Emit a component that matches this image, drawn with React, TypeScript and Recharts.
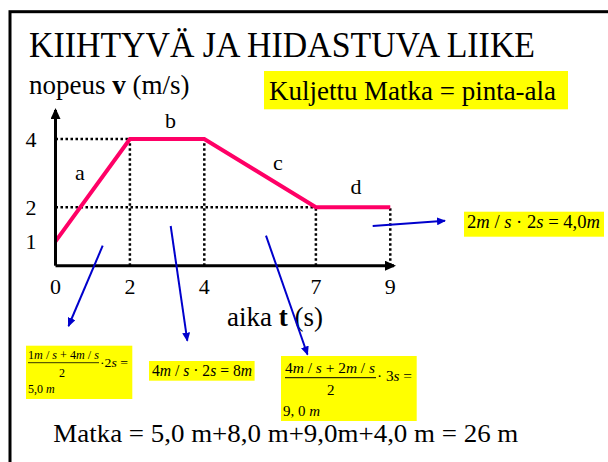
import { LineChart, Line, XAxis, YAxis, ReferenceLine } from 'recharts';

// aika t (s) ja nopeus v (m/s)
const timeS = [0, 2, 4, 7, 9];
const speedMs = [1, 4, 4, 2, 2];
const xTicks = [0, 2, 4, 7, 9];
const yTicks = [1, 2, 4];
const segmentNames = ['a', 'b', 'c', 'd'];

const data = timeS.map((t, i) => ({ t, v: speedMs[i] }));

const Y_MIN = 0.288;
const PINK = '#FF0066';
const BLUE = '#0000CC';
const SERIF = "'Liberation Serif', 'Times New Roman', serif";

// dotted guides: verticals from every corner down to the axis,
// horizontals from the y axis to the first point reaching each level
const vGuides = data.filter((d) => d.t > 0);
const hGuides = yTicks
  .filter((y) => y > 1)
  .map((y) => data.find((d) => d.v === y)!)
  .filter(Boolean);

const dotted = { stroke: '#000', strokeWidth: 2.5, strokeDasharray: '2.5 2.5' };

const Chart = () => (
  <LineChart
    width={608}
    height={462}
    data={data}
    margin={{ top: 110, right: 214, bottom: 166.3, left: 31.5 }}
  >
    <XAxis
      type="number"
      dataKey="t"
      domain={[0, 9.1]}
      ticks={xTicks}
      interval={0}
      height={30}
      tickLine={false}
      tickSize={0}
      tickMargin={13}
      axisLine={{ stroke: '#000', strokeWidth: 3, markerEnd: 'url(#axArrow)' }}
      tick={{ fill: '#000', fontSize: 22, fontFamily: SERIF }}
    />
    <YAxis
      type="number"
      domain={[Y_MIN, 4.85]}
      ticks={yTicks}
      interval={0}
      width={24}
      tickLine={false}
      tickSize={0}
      tickMargin={19}
      axisLine={{ stroke: '#000', strokeWidth: 3, markerStart: 'url(#axArrow)' }}
      tick={{ fill: '#000', fontSize: 22, fontFamily: SERIF }}
    />
    {vGuides.map((d) => (
      <ReferenceLine
        key={`v-${d.t}`}
        segment={[{ x: d.t, y: Y_MIN }, { x: d.t, y: d.v }]}
        {...dotted}
      />
    ))}
    {hGuides.map((d) => (
      <ReferenceLine
        key={`h-${d.v}`}
        segment={[{ x: 0, y: d.v }, { x: d.t, y: d.v }]}
        {...dotted}
      />
    ))}
    <Line
      type="linear"
      dataKey="v"
      stroke={PINK}
      strokeWidth={4}
      dot={false}
      isAnimationActive={false}
    />
  </LineChart>
);

const Overlay = () => (
  <svg
    width={608}
    height={462}
    style={{ position: 'absolute', left: 0, top: 0, pointerEvents: 'none', fontFamily: SERIF }}
  >
    <defs>
      <marker id="axArrow" viewBox="0 0 11 10" refX="9" refY="5" markerWidth="11" markerHeight="10"
        markerUnits="userSpaceOnUse" orient="auto-start-reverse">
        <path d="M0,0 L11,5 L0,10 z" fill="#000" />
      </marker>
      <marker id="blueArrow" viewBox="0 0 9 8" refX="8" refY="4" markerWidth="9" markerHeight="8"
        markerUnits="userSpaceOnUse" orient="auto">
        <path d="M0,0 L9,4 L0,8 z" fill={BLUE} />
      </marker>
    </defs>

    {/* slide frame */}
    <rect x={10} y={11.7} width={700} height={600} fill="none" stroke="#000" strokeWidth={3} />

    <text x={29} y={56.7} fontSize={35} textLength={506} lengthAdjust="spacingAndGlyphs">
      KIIHTYVÄ JA HIDASTUVA LIIKE
    </text>
    <text x={29} y={94.3} fontSize={27}>
      nopeus <tspan fontWeight="bold">v</tspan> (m/s)
    </text>

    <rect x={264} y={71} width={304} height={38.3} fill="#FFFF00" />
    <text x={269} y={100} fontSize={27} textLength={287} lengthAdjust="spacingAndGlyphs">
      Kuljettu Matka = pinta-ala
    </text>

    <text x={227} y={326} fontSize={27}>
      aika <tspan fontWeight="bold">t</tspan> (s)
    </text>

    {/* segment names */}
    <g fontSize={22} textAnchor="middle">
      <text x={80} y={180}>{segmentNames[0]}</text>
      <text x={170.5} y={128}>{segmentNames[1]}</text>
      <text x={278} y={170}>{segmentNames[2]}</text>
      <text x={356} y={194}>{segmentNames[3]}</text>
    </g>

    {/* arrows to the area calculations */}
    <g stroke={BLUE} strokeWidth={2} markerEnd="url(#blueArrow)">
      <line x1={102.7} y1={245.7} x2={68.5} y2={326} />
      <line x1={170.7} y1={226} x2={187.3} y2={340.7} />
      <line x1={266} y1={235.7} x2={307.5} y2={354.5} />
      <line x1={372.7} y1={226} x2={445} y2={220.7} />
    </g>

    {/* a */}
    <rect x={26} y={345.7} width={106.3} height={53.3} fill="#FFFF00" />
    <g fontSize={12}>
      <text x={28} y={359.3} textLength={71} lengthAdjust="spacingAndGlyphs">
        1<tspan fontStyle="italic">m</tspan> / <tspan fontStyle="italic">s</tspan> + 4<tspan fontStyle="italic">m</tspan> / <tspan fontStyle="italic">s</tspan>
      </text>
      <line x1={28} y1={362.7} x2={99} y2={362.7} stroke="#000" strokeWidth={0.8} />
      <text x={62} y={376.7} textAnchor="middle">2</text>
      <text x={100} y={366.7} textLength={28} lengthAdjust="spacingAndGlyphs">
        ·2<tspan fontStyle="italic">s</tspan> =
      </text>
      <text x={28} y={393.3}>
        5,0 <tspan fontStyle="italic">m</tspan>
      </text>
    </g>

    {/* b */}
    <rect x={149} y={361} width={105.6} height={19.7} fill="#FFFF00" />
    <text x={152} y={376} fontSize={16} textLength={100} lengthAdjust="spacingAndGlyphs">
      4<tspan fontStyle="italic">m</tspan> / <tspan fontStyle="italic">s</tspan> · 2<tspan fontStyle="italic">s</tspan> = 8<tspan fontStyle="italic">m</tspan>
    </text>

    {/* c */}
    <rect x={281} y={356} width={135.7} height={65} fill="#FFFF00" />
    <g fontSize={15}>
      <text x={285} y={373.3} textLength={90} lengthAdjust="spacingAndGlyphs">
        4<tspan fontStyle="italic">m</tspan> / <tspan fontStyle="italic">s</tspan> + 2<tspan fontStyle="italic">m</tspan> / <tspan fontStyle="italic">s</tspan>
      </text>
      <line x1={285} y1={377.7} x2={376} y2={377.7} stroke="#000" strokeWidth={1} />
      <text x={330.7} y={395} textAnchor="middle">2</text>
      <text x={377} y={381} textLength={35} lengthAdjust="spacingAndGlyphs">
        · 3<tspan fontStyle="italic">s</tspan> =
      </text>
      <text x={283} y={416} textLength={37} lengthAdjust="spacingAndGlyphs">
        9, 0 <tspan fontStyle="italic">m</tspan>
      </text>
    </g>

    {/* d */}
    <rect x={464} y={211.7} width={140} height={25} fill="#FFFF00" />
    <text x={467} y={228.3} fontSize={18} textLength={133} lengthAdjust="spacingAndGlyphs">
      2<tspan fontStyle="italic">m</tspan> / <tspan fontStyle="italic">s</tspan> · 2<tspan fontStyle="italic">s</tspan> = 4,0<tspan fontStyle="italic">m</tspan>
    </text>

    <text x={53.3} y={441.5} fontSize={26} textLength={465} lengthAdjust="spacingAndGlyphs">
      Matka = 5,0 m+8,0 m+9,0m+4,0 m = 26 m
    </text>
  </svg>
);

export default function App() {
  return (
    <div
      style={{
        position: 'absolute',
        left: 0,
        top: 0,
        width: 608,
        height: 462,
        background: '#fff',
        overflow: 'hidden',
      }}
    >
      <Chart />
      <Overlay />
    </div>
  );
}
